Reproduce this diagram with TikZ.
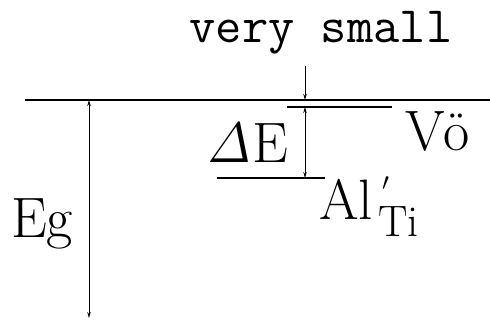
\documentclass[tikz,border=0pt]{standalone}
\usepackage{fontspec}
\usepackage{tikz}
\usetikzlibrary{arrows.meta, positioning}

\tikzset{
  bandline/.style={line width=1.5pt},
  levelline/.style={line width=2.6pt},
  trapline/.style={line width=1.2pt},
  dimarrow/.style={line width=0.9pt, -{Stealth[length=6pt,width=3.5pt]}},
  dimboth/.style={line width=0.9pt, {Stealth[length=6pt,width=3.5pt]}-{Stealth[length=6pt,width=3.5pt]}},
  bigtext/.style={font=\fontsize{57}{60}\selectfont, inner sep=0pt},
  subtext/.style={font=\fontsize{44}{46}\selectfont, inner sep=0pt},
  ttlabel/.style={font=\fontsize{51}{54}\selectfont\ttfamily, inner sep=0pt}
}

\begin{document}
\begin{tikzpicture}[x=1pt, y=-1pt]
  \useasboundingbox (0,0) rectangle (490,321);
  % band edge and levels
  \coordinate (cbL) at (25,100);
  \coordinate (cbR) at (490,100);
  \coordinate (cbA) at (89,100);
  \coordinate (vbA) at (89,318);
  \coordinate (voL) at (287,107);
  \coordinate (voR) at (392,107);
  \coordinate (alL) at (217,178);
  \coordinate (alR) at (325,178);
  \coordinate (top) at (305,66);
  \coordinate (cbX) at (305,100);
  \coordinate (voX) at (305,107);
  \coordinate (alX) at (305,178);
  \draw[bandline] (cbL) -- (cbR);
  \draw[levelline] (voL) -- (voR);
  \draw[trapline] (alL) -- (alR);
  % arrows
  \draw[dimboth] (cbA) -- (vbA);
  \draw[dimarrow] (top) -- (cbX);
  \draw[dimboth] (voX) -- (alX);
  % labels
  \node[ttlabel, anchor=base] (small) at (321,43) {very small};
  \node[bigtext, anchor=base east] (dE) at (288,162) {{\itshape Δ}E};
  \node[bigtext, anchor=base west] (vo) at (405,150) {V\"o};
  \node[bigtext, anchor=base west] (eg) at (11,237) {Eg};
  \node[bigtext, anchor=base west] (al) at (319,219) {Al};
  \node[bigtext, anchor=base west] (prime) at (382,200) {\fontsize{40}{40}\selectfont$'$};
  \node[subtext, anchor=base west] (ti) at (378,236) {Ti};
\end{tikzpicture}
\end{document}
